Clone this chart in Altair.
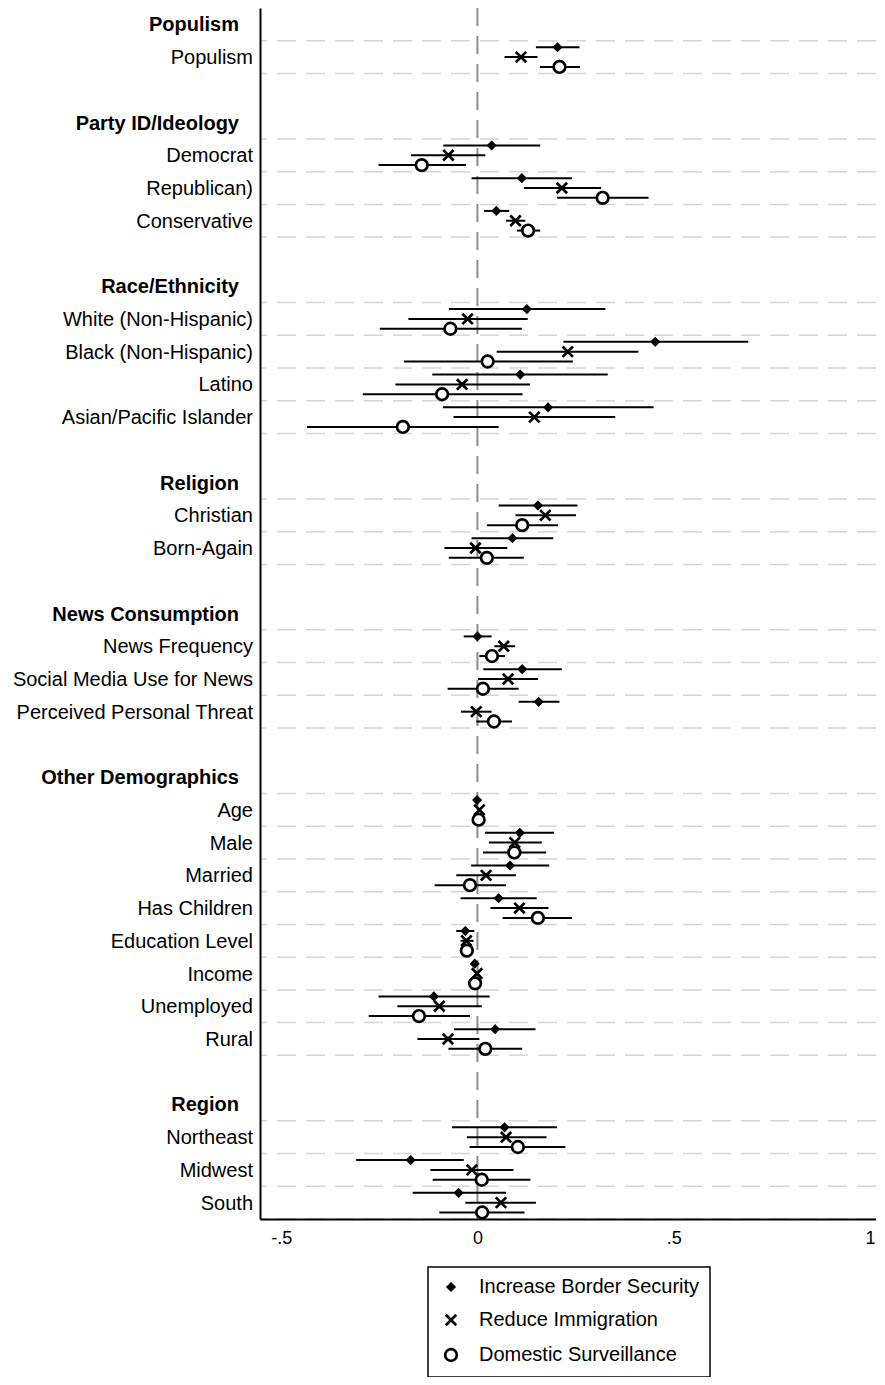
import altair as alt
import pandas as pd

# ---------------- data ----------------
groups = ["Populism", "Party ID/Ideology", "Race/Ethnicity", "Religion",
          "News Consumption", "Other Demographics", "Region"]
group_vars = [
    ["Populism"],
    ["Democrat", "Republican)", "Conservative"],
    ["White (Non-Hispanic)", "Black (Non-Hispanic)", "Latino", "Asian/Pacific Islander"],
    ["Christian", "Born-Again"],
    ["News Frequency", "Social Media Use for News", "Perceived Personal Threat"],
    ["Age", "Male", "Married", "Has Children", "Education Level", "Income", "Unemployed", "Rural"],
    ["Northeast", "Midwest", "South"],
]

series = ["Increase Border Security", "Reduce Immigration", "Domestic Surveillance"]

border_coef = [0.204, 0.036, 0.113, 0.048, 0.126, 0.453, 0.109, 0.180, 0.154, 0.089, 0.000, 0.114,
               0.156, -0.001, 0.108, 0.083, 0.054, -0.031, -0.007, -0.111, 0.045, 0.069, -0.170, -0.048]
border_lo = [0.149, -0.087, -0.015, 0.017, -0.073, 0.219, -0.115, -0.088, 0.054, -0.015, -0.035, 0.015,
             0.105, -0.005, 0.019, -0.016, -0.043, -0.054, -0.013, -0.252, -0.060, -0.065, -0.309, -0.165]
border_hi = [0.260, 0.160, 0.241, 0.081, 0.326, 0.690, 0.332, 0.449, 0.255, 0.193, 0.036, 0.215,
             0.209, 0.003, 0.195, 0.183, 0.151, -0.008, -0.001, 0.031, 0.148, 0.203, -0.035, 0.073]

immig_coef = [0.111, -0.074, 0.215, 0.097, -0.025, 0.230, -0.039, 0.145, 0.173, -0.005, 0.067, 0.078,
              -0.003, 0.005, 0.095, 0.022, 0.107, -0.028, -0.001, -0.097, -0.075, 0.073, -0.014, 0.060]
immig_lo = [0.069, -0.169, 0.118, 0.073, -0.176, 0.049, -0.209, -0.061, 0.097, -0.084, 0.043, 0.002,
            -0.042, 0.001, 0.029, -0.054, 0.033, -0.043, -0.005, -0.204, -0.153, -0.027, -0.120, -0.031]
immig_hi = [0.153, 0.020, 0.315, 0.122, 0.128, 0.410, 0.134, 0.351, 0.251, 0.076, 0.096, 0.154,
            0.036, 0.009, 0.164, 0.098, 0.181, -0.010, 0.003, 0.011, 0.005, 0.176, 0.092, 0.149]

surv_coef = [0.209, -0.142, 0.319, 0.129, -0.069, 0.026, -0.090, -0.190, 0.114, 0.024, 0.037, 0.014,
             0.042, 0.003, 0.094, -0.019, 0.154, -0.027, -0.006, -0.149, 0.020, 0.103, 0.011, 0.012]
surv_lo = [0.159, -0.252, 0.203, 0.101, -0.249, -0.187, -0.292, -0.434, 0.024, -0.073, 0.005, -0.076,
           -0.003, -0.001, 0.014, -0.109, 0.064, -0.040, -0.010, -0.277, -0.074, -0.020, -0.114, -0.097]
surv_hi = [0.261, -0.029, 0.436, 0.160, 0.113, 0.243, 0.115, 0.054, 0.205, 0.118, 0.070, 0.105,
           0.088, 0.007, 0.175, 0.073, 0.241, -0.014, -0.002, -0.019, 0.114, 0.224, 0.135, 0.120]

tick_values = [-0.5, 0, 0.5, 1]
tick_labels = ["-.5", "0", ".5", "1"]

# ---------------- styling ----------------
FONT = "Liberation Sans"
series_offset = {series[0]: -0.3, series[1]: 0.0, series[2]: 0.3}
shape_paths = [
    "M0,-0.53L0.53,0L0,0.53L-0.53,0Z",                             # diamond
    "M-0.87,-0.87L0.87,0.87M-0.87,0.87L0.87,-0.87",                 # x
    "M0.97,0A0.97,0.97,0,1,1,-0.97,0A0.97,0.97,0,1,1,0.97,0Z",      # circle
]
fill_colors = ["black", "black", "white"]
stroke_colors = ["black", "black", "black"]

# ---------------- tables ----------------
label_rows, var_rows = [], []
row = 0
for g, vs in zip(groups, group_vars):
    label_rows.append({"label": g, "row": row, "kind": "header"})
    row += 1
    for v in vs:
        label_rows.append({"label": v, "row": row, "kind": "var"})
        var_rows.append(row)
        row += 1
    row += 1
n_rows = row - 1
labels_df = pd.DataFrame(label_rows)

vals = {
    series[0]: (border_coef, border_lo, border_hi),
    series[1]: (immig_coef, immig_lo, immig_hi),
    series[2]: (surv_coef, surv_lo, surv_hi),
}
pts = []
for s in series:
    c, lo, hi = vals[s]
    for k, r in enumerate(var_rows):
        pts.append({"series": s, "row": r, "pos": r + series_offset[s],
                    "coef": c[k], "lo": lo[k], "hi": hi[k]})
pts_df = pd.DataFrame(pts)

grid_df = pd.DataFrame({"g": sorted(set([r - 0.5 for r in var_rows] + [r + 0.5 for r in var_rows]))})
zero_df = pd.DataFrame({"z": [0.0]})

# ---------------- scales / axes ----------------
PLOT_W, PLOT_H = 616, 1211
x_scale = alt.Scale(domain=[-0.554, -0.554 + PLOT_W / 392.5], nice=False, zero=False)
y_scale = alt.Scale(domain=[-0.5, n_rows - 0.5], reverse=True, nice=False, zero=False)

label_expr = " : ".join(
    f"datum.value == {v} ? '{l}'" for v, l in zip(tick_values, tick_labels)
) + " : ''"
x_axis = alt.Axis(values=tick_values, labelExpr=label_expr, ticks=False, grid=False,
                  domainColor="black", domainWidth=2, labelFont=FONT, labelFontSize=18,
                  labelColor="black", labelPadding=10, title=None, zindex=1)
y_axis = alt.Axis(labels=False, ticks=False, grid=False, domainColor="black",
                  domainWidth=2, title=None, zindex=1)

legend = alt.Legend(orient="none", legendX=168, legendY=1259, direction="vertical",
                    title=None, labelFont=FONT, labelFontSize=20, labelColor="black",
                    labelLimit=400, strokeColor="black", fillColor="white",
                    padding=10, rowPadding=12, symbolOffset=3, labelOffset=18,
                    symbolSize=144, symbolStrokeColor="black", symbolStrokeWidth=2.7,
                    symbolOpacity=1)

# ---------------- layers ----------------
grid = alt.Chart(grid_df).mark_rule(stroke="#d6d6d6", strokeWidth=1.5, strokeDash=[19, 10]).encode(
    y=alt.Y("g:Q", scale=y_scale, axis=y_axis)
)
zero = alt.Chart(zero_df).mark_rule(stroke="#8c8c8c", strokeWidth=2, strokeDash=[18, 10]).encode(
    x=alt.X("z:Q", scale=x_scale, axis=x_axis)
)
ci = alt.Chart(pts_df).mark_rule(stroke="black", strokeWidth=2).encode(
    x=alt.X("lo:Q", scale=x_scale, axis=x_axis),
    x2="hi:Q",
    y=alt.Y("pos:Q", scale=y_scale, axis=y_axis),
)
points = alt.Chart(pts_df).mark_point(strokeWidth=2.7, size=144, opacity=1,
                                      fillOpacity=1, strokeOpacity=1).encode(
    x=alt.X("coef:Q", scale=x_scale, axis=x_axis),
    y=alt.Y("pos:Q", scale=y_scale, axis=y_axis),
    shape=alt.Shape("series:N", scale=alt.Scale(domain=series, range=shape_paths), legend=legend),
    fill=alt.Fill("series:N", scale=alt.Scale(domain=series, range=fill_colors), legend=legend),
    stroke=alt.Stroke("series:N", scale=alt.Scale(domain=series, range=stroke_colors), legend=legend),
)
headers = alt.Chart(labels_df).transform_filter("datum.kind == 'header'").mark_text(
    align="right", baseline="middle", font=FONT, fontSize=20, fontWeight="bold", color="black", dy=1
).encode(
    x=alt.value(-21),
    y=alt.Y("row:Q", scale=y_scale, axis=y_axis),
    text="label:N",
)
varlabels = alt.Chart(labels_df).transform_filter("datum.kind == 'var'").mark_text(
    align="right", baseline="middle", font=FONT, fontSize=20, color="black", dy=1
).encode(
    x=alt.value(-7),
    y=alt.Y("row:Q", scale=y_scale, axis=y_axis),
    text="label:N",
)

chart = alt.layer(grid, zero, ci, points, headers, varlabels).properties(
    width=PLOT_W, height=PLOT_H,
    autosize=alt.AutoSizeParams(type="none"),
    padding={"left": 252, "top": 0, "right": 0, "bottom": 158},
    background="white",
).configure_view(stroke=None).configure_legend(strokeWidth=1.5)

chart.save("out.html", embed_options={"renderer": "svg", "actions": False})
